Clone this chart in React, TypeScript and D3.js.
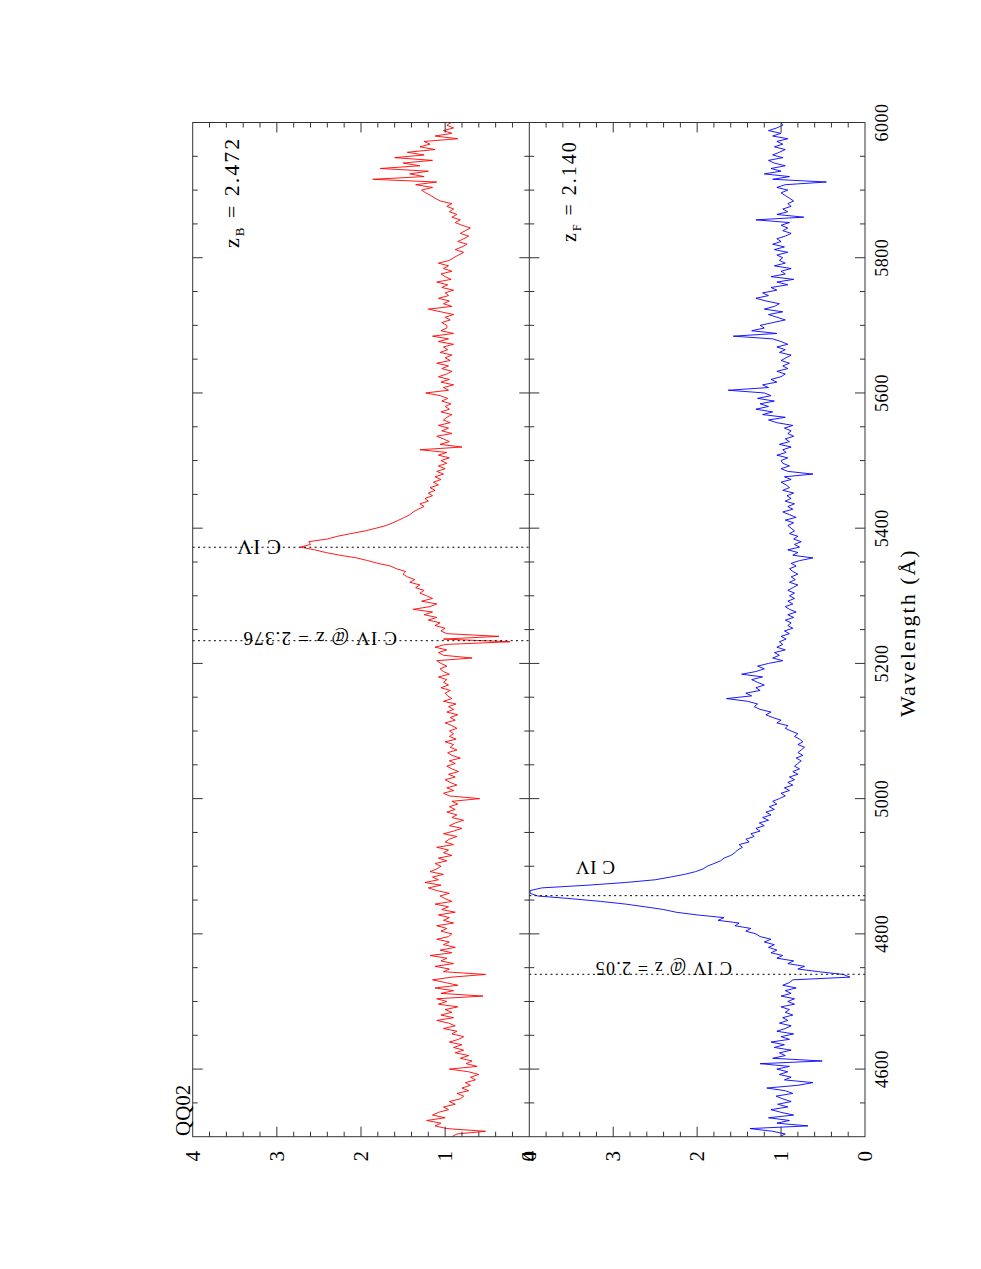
import React from "react";
import * as d3 from "d3";

// ---------- data ----------
const WAVE_START = 4500;
const WAVE_STEP = 4;

// zB panel (red) flux, 4 Å sampling from 4500 to 6000
const redFlux = [
  0.92, 0.86, 0.52, 0.98, 1.12, 1.05, 1.22, 1.0, 1.15, 1.08, 0.96, 1.02, 0.88, 0.95, 0.82, 0.78, 0.86, 0.72, 0.8, 0.7, 0.76, 0.64, 0.7, 0.6, 0.72,
  0.95, 0.62, 0.75, 0.68, 0.82, 0.72, 0.88, 0.78, 0.9, 0.8, 0.95, 0.84, 0.78, 0.92, 0.86, 1.02, 0.88, 0.96, 1.1, 0.9, 1.05, 0.92, 1.0, 0.85, 1.08,
  0.98, 1.1, 0.55, 1.05, 0.9, 1.12, 0.85, 1.0, 1.15, 0.92, 0.52, 1.02, 0.95, 1.12, 0.9, 1.05, 0.98, 1.18, 0.92, 1.06, 0.88, 1.02, 0.95, 1.1, 0.96,
  0.92, 1.05, 0.98, 1.1, 0.9, 1.02, 0.95, 1.08, 0.88, 1.04, 0.96, 1.12, 0.92, 1.0, 1.06, 0.95, 1.1, 1.2, 1.05, 1.24, 1.08, 1.15, 1.02, 1.18, 1.1,
  1.05, 1.12, 0.98, 1.08, 0.92, 1.02, 0.96, 1.1, 0.9, 1.0, 0.95, 0.86, 1.02, 0.9, 0.8, 0.95, 0.88, 0.78, 0.92, 0.86, 0.98, 0.88, 0.95, 0.85, 0.92,
  0.59, 0.95, 1.02, 0.9, 0.98, 0.86, 0.94, 1.0, 0.88, 0.96, 0.84, 0.92, 0.98, 0.88, 0.95, 0.82, 0.92, 0.97, 0.86, 0.94, 0.9, 1.0, 0.87, 0.95, 0.9,
  0.95, 0.86, 0.92, 1.0, 0.88, 0.94, 0.85, 0.98, 0.9, 0.96, 0.87, 1.02, 0.92, 0.97, 1.0, 0.94, 1.05, 0.96, 1.02, 0.98, 1.08, 0.95, 1.02, 1.06, 0.98,
  1.05, 1.1, 0.68, 1.02, 1.08, 0.98, 1.12, 1.0, 0.23, 1.02, 0.36, 0.98, 1.05, 1.0, 1.12, 1.06, 1.2, 1.1, 1.25, 1.15, 1.38, 1.18, 1.1, 1.28, 1.15,
  1.22, 1.3, 1.25, 1.35, 1.3, 1.42, 1.36, 1.45, 1.5, 1.47, 1.58, 1.65, 1.8, 1.92, 2.05, 2.25, 2.42, 2.55, 2.72, 2.6, 2.62, 2.4, 2.28, 2.12, 1.95,
  1.82, 1.7, 1.62, 1.55, 1.48, 1.42, 1.38, 1.32, 1.25, 1.3, 1.2, 1.24, 1.15, 1.2, 1.12, 1.18, 1.08, 1.14, 1.05, 1.12, 1.02, 1.1, 1.0, 1.08, 0.98,
  1.05, 0.95, 1.08, 0.98, 1.3, 0.8, 1.06, 0.95, 1.02, 1.1, 0.92, 1.04, 0.96, 1.08, 0.94, 1.02, 0.98, 0.92, 1.05, 0.95, 1.0, 0.93, 1.04, 0.97, 1.06,
  1.23, 0.96, 1.02, 0.9, 1.05, 0.95, 1.08, 0.98, 0.92, 1.04, 0.96, 1.1, 0.94, 1.0, 0.92, 1.06, 0.97, 1.02, 0.9, 1.08, 0.96, 1.15, 0.9, 1.05, 0.98,
  0.98, 1.04, 0.94, 1.0, 0.9, 1.05, 1.2, 0.92, 1.02, 0.95, 1.08, 0.96, 1.0, 0.9, 1.04, 0.97, 1.1, 0.93, 1.0, 1.05, 0.92, 1.02, 0.96, 1.08, 0.95,
  0.9, 0.84, 0.78, 0.88, 0.8, 0.74, 0.85, 0.78, 0.72, 0.82, 0.76, 0.7, 0.8, 0.88, 0.82, 0.92, 0.86, 0.95, 0.9, 0.98, 0.92, 1.06, 1.12, 1.17, 1.23,
  1.28, 1.15, 1.35, 1.1, 1.86, 1.25, 1.42, 1.2, 1.77, 1.3, 1.5, 1.15, 1.6, 1.25, 1.45, 1.12, 1.3, 1.18, 1.25, 0.85, 1.12, 0.92, 1.02, 0.9, 0.98,
  0.93,
];

// zF panel (blue) flux, 4 Å sampling from 4500 to 6000
const blueFlux = [
  1.02, 0.95, 1.1, 1.37, 0.68, 1.05, 0.9, 1.15, 0.85, 1.0, 1.12, 0.92, 1.04, 0.88, 0.98, 1.06, 0.86, 0.95, 1.17, 0.8, 0.62, 0.96, 0.88, 1.02, 0.92,
  1.05, 0.9, 1.25, 0.51, 1.1, 0.95, 1.02, 0.88, 1.08, 0.96, 1.12, 0.9, 1.0, 0.85, 1.05, 0.95, 0.88, 1.02, 0.92, 0.98, 0.86, 0.95, 0.9, 1.0, 0.84,
  0.92, 0.84, 1.0, 0.88, 0.95, 0.82, 0.98, 0.9, 0.86, 0.18, 0.26, 0.55, 0.8, 0.72, 0.92, 0.85, 1.05, 0.98, 1.12, 1.05, 1.15, 1.08, 1.2, 1.12, 1.25,
  1.3, 1.42, 1.36, 1.55, 1.5, 1.75, 1.68, 2.0, 2.25, 2.4, 2.62, 2.85, 3.15, 3.5, 3.9, 3.99, 3.99, 3.85, 3.3, 2.85, 2.5, 2.32, 2.15, 2.02, 1.93,
  1.88, 1.8, 1.72, 1.68, 1.6, 1.55, 1.52, 1.46, 1.5, 1.38, 1.42, 1.32, 1.36, 1.25, 1.3, 1.2, 1.26, 1.15, 1.22, 1.12, 1.18, 1.08, 1.14, 1.05, 1.1,
  1.02, 0.95, 1.0, 0.9, 0.96, 0.86, 0.92, 0.84, 0.9, 0.8, 0.86, 0.78, 0.84, 0.8, 0.76, 0.82, 0.74, 0.8, 0.76, 0.72, 0.8, 0.74, 0.78, 0.84, 0.8,
  0.88, 0.95, 0.92, 1.05, 1.0, 1.1, 1.18, 1.12, 1.25, 1.32, 1.28, 1.4, 1.65, 1.35, 1.42, 1.25, 1.3, 1.2, 1.28, 1.35, 1.22, 1.47, 1.3, 1.2, 1.28,
  1.15, 0.98, 1.1, 1.02, 1.08, 0.95, 1.05, 0.98, 1.02, 0.94, 1.0, 0.9, 0.96, 0.86, 0.92, 0.88, 0.95, 0.85, 0.92, 0.82, 0.9, 0.95, 0.86, 0.92, 0.84,
  0.9, 0.84, 0.92, 0.86, 0.8, 0.9, 0.83, 0.88, 0.8, 0.86, 0.9, 0.82, 0.88, 0.78, 0.62, 0.86, 0.8, 0.92, 0.78, 0.84, 0.76, 0.85, 0.8, 0.9, 0.84,
  0.88, 0.92, 0.85, 0.95, 0.82, 0.9, 0.98, 0.86, 0.92, 0.84, 0.95, 0.88, 0.93, 0.85, 0.98, 0.9, 0.94, 1.0, 0.88, 0.96, 0.62, 0.92, 1.0, 0.9, 0.98,
  1.0, 0.92, 1.05, 0.94, 0.98, 0.88, 1.02, 0.9, 0.95, 0.85, 0.92, 0.88, 0.96, 0.86, 1.05, 1.15, 0.95, 1.22, 1.1, 1.3, 1.15, 1.25, 1.08, 1.28, 1.12,
  1.2, 1.63, 1.15, 1.22, 1.05, 1.12, 1.0, 0.95, 1.05, 0.92, 0.98, 0.9, 1.0, 0.94, 0.88, 1.02, 0.95, 1.05, 0.92, 1.0, 1.1, 1.57, 1.05, 1.35, 1.2,
  1.25, 1.1, 0.95, 1.05, 1.15, 0.98, 1.2, 1.08, 1.02, 1.18, 1.3, 1.15, 1.22, 1.05, 1.12, 0.92, 1.05, 0.85, 1.12, 0.95, 1.0, 0.88, 1.08, 0.95, 1.02,
  0.98, 1.05, 0.92, 1.08, 0.96, 1.1, 1.0, 1.05, 0.95, 0.88, 0.98, 0.92, 1.0, 0.9, 1.3, 0.73, 1.05, 0.92, 0.98, 0.88, 0.92, 0.85, 0.9, 0.95, 1.0,
  0.92, 1.05, 0.95, 0.46, 1.1, 0.9, 1.2, 1.0, 1.12, 0.95, 1.08, 1.15, 0.98, 1.1, 1.02, 0.95, 1.08, 0.98, 1.05, 0.92, 1.1, 1.0, 1.15, 1.05, 0.98,
  1.0,
];

const WAVE_TICKS = [4600, 4800, 5000, 5200, 5400, 5600, 5800, 6000];
const WAVE_MINOR_STEP = 50;
const FLUX_TICKS = [0, 1, 2, 3, 4];
const FLUX_MINOR_STEP = 0.2;

// line identifications: [wavelength, label]
const redLines = [
  { w: 5371.8, label: "C IV" },
  { w: 5233.6, label: "C IV @ z = 2.376" },
];
const blueLines = [
  { w: 4856.5, label: "C IV" },
  { w: 4740.2, label: "C IV @ z = 2.05" },
];

const TITLE = "QQ02";
const Z_B = "2.472";
const Z_F = "2.140";

// ---------- layout ----------
const WIDTH = 981;
const HEIGHT = 1269;
const TOP = 122.5;
const BOTTOM = 1136.7;
const X_LEFT = 192.7;
const X_MID = 529.3;
const X_RIGHT = 865;
const FONT = "'Liberation Serif', 'DejaVu Serif', serif";
const AXIS = "#333";

export default function App() {
  const yW = d3.scaleLinear().domain([4500, 6000]).range([BOTTOM, TOP]);
  const xTop = d3.scaleLinear().domain([0, 4]).range([X_MID, X_LEFT]);
  const xBot = d3.scaleLinear().domain([0, 4]).range([X_RIGHT, X_MID]);

  const redData = redFlux.map((f, i) => ({ w: WAVE_START + i * WAVE_STEP, f }));
  const blueData = blueFlux.map((f, i) => ({ w: WAVE_START + i * WAVE_STEP, f }));

  const redPath = d3
    .line<{ w: number; f: number }>()
    .x((d) => xTop(d.f))
    .y((d) => yW(d.w))(redData) as string;
  const bluePath = d3
    .line<{ w: number; f: number }>()
    .x((d) => xBot(d.f))
    .y((d) => yW(d.w))(blueData) as string;

  const waveMinor = d3.range(4500, 6000.1, WAVE_MINOR_STEP);
  const fluxMinor = d3.range(0, 4.001, FLUX_MINOR_STEP);
  const isMajorW = (v: number) => WAVE_TICKS.includes(v);
  const isMajorF = (v: number) => Math.abs(v - Math.round(v)) < 1e-6;

  const ticks: JSX.Element[] = [];
  waveMinor.forEach((v, i) => {
    if (v <= 4500 || v >= 6000) return;
    const len = isMajorW(v) ? 10 : 5;
    const y = yW(v);
    ticks.push(<line key={`wl${i}`} x1={X_LEFT} x2={X_LEFT + len} y1={y} y2={y} />);
    ticks.push(<line key={`wm${i}`} x1={X_MID - len} x2={X_MID + len} y1={y} y2={y} />);
    ticks.push(<line key={`wr${i}`} x1={X_RIGHT - len} x2={X_RIGHT} y1={y} y2={y} />);
  });
  [xTop, xBot].forEach((sc, p) => {
    fluxMinor.forEach((v, i) => {
      if (v <= 0.001 || v >= 3.999) return;
      const len = isMajorF(v) ? 10 : 5;
      const x = sc(v);
      ticks.push(<line key={`fb${p}-${i}`} x1={x} x2={x} y1={BOTTOM} y2={BOTTOM - len} />);
      ticks.push(<line key={`ft${p}-${i}`} x1={x} x2={x} y1={TOP} y2={TOP + len} />);
    });
  });

  return (
    <svg
      width={WIDTH}
      height={HEIGHT}
      style={{ position: "absolute", left: 0, top: 0, background: "#fff" }}
      fontFamily={FONT}
    >
      <defs>
        <clipPath id="clipTop">
          <rect x={X_LEFT} y={TOP} width={X_MID - X_LEFT} height={BOTTOM - TOP} />
        </clipPath>
        <clipPath id="clipBot">
          <rect x={X_MID} y={TOP} width={X_RIGHT - X_MID} height={BOTTOM - TOP} />
        </clipPath>
      </defs>

      {/* spectra */}
      <path d={redPath} fill="none" stroke="#ff0000" strokeWidth={0.9} strokeLinejoin="miter" clipPath="url(#clipTop)" />
      <path d={bluePath} fill="none" stroke="#0000ff" strokeWidth={0.9} strokeLinejoin="miter" clipPath="url(#clipBot)" />

      {/* identification dotted lines */}
      {redLines.map((l, i) => (
        <line key={`rl${i}`} x1={X_LEFT} x2={X_MID} y1={yW(l.w)} y2={yW(l.w)} stroke="#000" strokeWidth={1} strokeDasharray="2,3.3" />
      ))}
      {blueLines.map((l, i) => (
        <line key={`bl${i}`} x1={X_MID} x2={X_RIGHT} y1={yW(l.w)} y2={yW(l.w)} stroke="#000" strokeWidth={1} strokeDasharray="2,3.3" />
      ))}

      {/* frame */}
      <g stroke={AXIS} strokeWidth={1} fill="none">
        <rect x={X_LEFT} y={TOP} width={X_RIGHT - X_LEFT} height={BOTTOM - TOP} />
        <line x1={X_MID} x2={X_MID} y1={TOP} y2={BOTTOM} />
        {ticks}
      </g>

      {/* wavelength tick labels */}
      {WAVE_TICKS.map((v) => (
        <text
          key={`wt${v}`}
          transform={`translate(888,${yW(v)}) rotate(-90)`}
          textAnchor="middle"
          fontSize={18}
          letterSpacing={0.5}
          fill="#000"
        >
          {v}
        </text>
      ))}
      <text
        transform={`translate(915,${(TOP + BOTTOM) / 2 + 3}) rotate(-90)`}
        textAnchor="middle"
        fontSize={22}
        letterSpacing={2}
        fill="#000"
      >
        Wavelength (Å)
      </text>

      {/* flux tick labels */}
      {[xTop, xBot].map((sc, p) =>
        FLUX_TICKS.map((v) => (
          <text
            key={`fl${p}-${v}`}
            transform={`translate(${sc(v)},1151) rotate(-90)`}
            textAnchor="end"
            dominantBaseline="central"
            fontSize={21}
            fill="#000"
          >
            {v}
          </text>
        ))
      )}

      {/* title */}
      <text transform={`translate(190,1136) rotate(-90)`} fontSize={21} fill="#000">
        {TITLE}
      </text>

      {/* redshift labels */}
      <text transform={`translate(239,248) rotate(-90)`} fontSize={22} letterSpacing={2} fill="#000">
        z
        <tspan fontSize={13} dy={5}>B</tspan>
        <tspan dy={-5}>{` = ${Z_B}`}</tspan>
      </text>
      <text transform={`translate(576,242) rotate(-90)`} fontSize={20} letterSpacing={2} fill="#000">
        z
        <tspan fontSize={12} dy={5}>F</tspan>
        <tspan dy={-5}>{` = ${Z_F}`}</tspan>
      </text>

      {/* line labels (upside down) */}
      <text transform={`translate(281,${yW(redLines[0].w) - 7}) rotate(180)`} fontSize={21} letterSpacing={0.8} fill="#000">
        {redLines[0].label}
      </text>
      <text transform={`translate(397,${yW(redLines[1].w) - 9}) rotate(180)`} fontSize={19} letterSpacing={1.2} fill="#000">
        {redLines[1].label}
      </text>
      <text transform={`translate(615,${yW(blueLines[0].w) - 35}) rotate(180)`} fontSize={19} letterSpacing={0.6} fill="#000">
        {blueLines[0].label}
      </text>
      <text transform={`translate(732,${yW(blueLines[1].w) - 12.5}) rotate(180)`} fontSize={18} letterSpacing={1.2} fill="#000">
        {blueLines[1].label}
      </text>
    </svg>
  );
}
